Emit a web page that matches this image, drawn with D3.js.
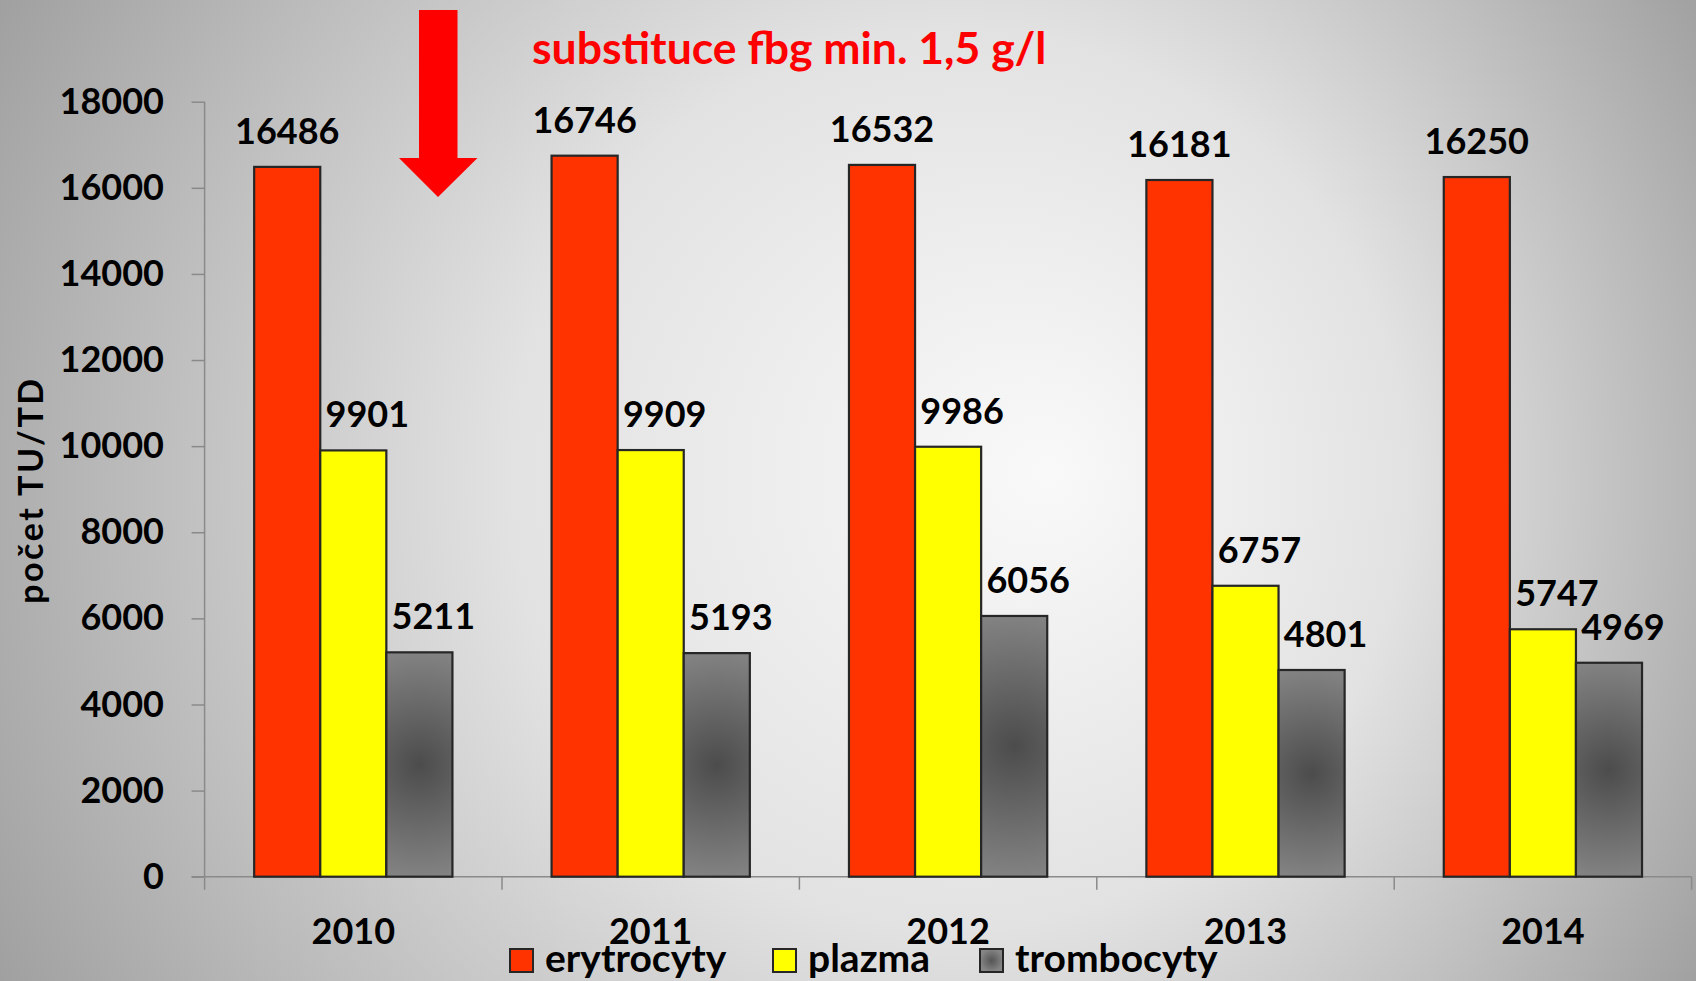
<!DOCTYPE html>
<html>
<head>
<meta charset="utf-8">
<script src="https://cdn.jsdelivr.net/npm/d3@7"></script>
<style>
  html, body { margin: 0; padding: 0; background: #ffffff; }
  svg { display: block; }
  text { font-family: "Lato", "Open Sans", "DejaVu Sans", sans-serif; font-weight: 700; }
</style>
</head>
<body>
<svg id="chart" width="1696" height="981"></svg>
<script>
// Blood component counts per year
const years = ["2010", "2011", "2012", "2013", "2014"];
const seriesNames = ["erytrocyty", "plazma", "trombocyty"];
const erytrocyty = [16486, 16746, 16532, 16181, 16250];
const plazma = [9901, 9909, 9986, 6757, 5747];
const trombocyty = [5211, 5193, 6056, 4801, 4969];
const yTicks = [0, 2000, 4000, 6000, 8000, 10000, 12000, 14000, 16000, 18000];
const yTitle = "počet TU/TD";
const noteText = "substituce fbg min. 1,5 g/l";

const seriesValues = [erytrocyty, plazma, trombocyty];
const seriesFill = ["#ff3300", "#ffff00", null];
const labelDx = [0, 14, 14];

const W = 1696, H = 981;
const margin = { left: 204.6, right: 1691.6, top: 101.7, bottom: 876.7 };

const svg = d3.select("#chart");
const defs = svg.append("defs");

// page background: light centre fading to grey edges
const bg = defs.append("radialGradient")
  .attr("id", "bgGrad")
  .attr("gradientUnits", "userSpaceOnUse")
  .attr("cx", 848).attr("cy", 490).attr("r", 1000)
  .attr("fx", 1050).attr("fy", 470);
bg.append("stop").attr("offset", "0").attr("stop-color", "#f9f9f9");
bg.append("stop").attr("offset", "0.45").attr("stop-color", "#e2e2e2");
bg.append("stop").attr("offset", "1").attr("stop-color", "#9e9e9e");
svg.append("rect").attr("width", W).attr("height", H).attr("fill", "url(#bgGrad)");

const x0 = d3.scaleBand().domain(years).range([margin.left, margin.right]).paddingInner(0).paddingOuter(0);
const x1 = d3.scaleBand().domain(seriesNames).range([0, x0.bandwidth()]).paddingInner(0).paddingOuter(0.75);
const y = d3.scaleLinear().domain([0, 18000]).range([margin.bottom, margin.top]);

const axisColor = "#8a8a8a";

// y axis
const yAxis = svg.append("g")
  .attr("transform", `translate(${margin.left},0)`)
  .call(d3.axisLeft(y).tickValues(yTicks).tickFormat(d3.format("d")).tickSize(13).tickSizeOuter(0).tickPadding(27.6));
yAxis.select(".domain").remove();
yAxis.selectAll(".tick line").attr("stroke", axisColor).attr("stroke-width", 1.5);
yAxis.selectAll(".tick text").attr("font-size", 36).attr("fill", "#000").attr("font-family", "Lato").attr("font-weight", 700);
svg.append("line")
  .attr("x1", margin.left).attr("x2", margin.left)
  .attr("y1", y(18000)).attr("y2", margin.bottom + 13)
  .attr("stroke", axisColor).attr("stroke-width", 1.5);

// x axis line and category boundary ticks
svg.append("line")
  .attr("x1", margin.left - 13).attr("x2", margin.right)
  .attr("y1", y(0)).attr("y2", y(0))
  .attr("stroke", axisColor).attr("stroke-width", 1.5);
svg.append("g").selectAll("line")
  .data(years.slice(1).concat(["end"]))
  .join("line")
  .attr("x1", d => d === "end" ? margin.right : x0(d))
  .attr("x2", d => d === "end" ? margin.right : x0(d))
  .attr("y1", y(0)).attr("y2", y(0) + 13)
  .attr("stroke", axisColor).attr("stroke-width", 1.5);

const xAxis = svg.append("g")
  .attr("transform", `translate(0,${y(0)})`)
  .call(d3.axisBottom(x0).tickSize(0).tickPadding(41.7));
xAxis.select(".domain").remove();
xAxis.selectAll(".tick text").attr("font-size", 36).attr("fill", "#000").attr("font-family", "Lato").attr("font-weight", 700);

// bars
const bars = [];
years.forEach((yr, i) => {
  seriesNames.forEach((s, j) => {
    bars.push({ year: yr, series: s, si: j, value: seriesValues[j][i], id: `tg${i}` });
  });
});

// shaded fill for the platelet bars
bars.filter(d => d.si === 2).forEach(d => {
  const bx = x0(d.year) + x1(d.series) + x1.bandwidth() / 2;
  const top = y(d.value), bot = y(0);
  const g = defs.append("radialGradient")
    .attr("id", d.id)
    .attr("gradientUnits", "userSpaceOnUse")
    .attr("cx", bx).attr("cy", (top + bot) / 2).attr("r", (bot - top) / 2);
  g.append("stop").attr("offset", "0").attr("stop-color", "#4c4c4c");
  g.append("stop").attr("offset", "1").attr("stop-color", "#828282");
});

svg.append("g").selectAll("rect")
  .data(bars)
  .join("rect")
  .attr("x", d => x0(d.year) + x1(d.series))
  .attr("y", d => y(d.value))
  .attr("width", x1.bandwidth())
  .attr("height", d => y(0) - y(d.value))
  .attr("fill", d => d.si === 2 ? `url(#${d.id})` : seriesFill[d.si])
  .attr("stroke", "#262626")
  .attr("stroke-width", 2.2);

// value labels
svg.append("g").selectAll("text")
  .data(bars)
  .join("text")
  .attr("x", d => x0(d.year) + x1(d.series) + x1.bandwidth() / 2 + labelDx[d.si])
  .attr("y", d => y(d.value) - 23)
  .attr("text-anchor", "middle")
  .attr("font-size", 36)
  .attr("fill", "#000")
  .text(d => d.value);

// y axis title
svg.append("text")
  .attr("transform", "translate(43,490) rotate(-90)")
  .attr("text-anchor", "middle")
  .attr("font-size", 34)
  .attr("letter-spacing", 2.5)
  .attr("fill", "#000")
  .text(yTitle);

// annotation arrow and note
svg.append("path")
  .attr("d", "M419,10 L457.5,10 L457.5,158 L477.5,158 L438,197 L399,158 L419,158 Z")
  .attr("fill", "#ff0000");
svg.append("text")
  .attr("x", 532).attr("y", 64)
  .attr("font-size", 44.5)
  .attr("fill", "#ff0000")
  .text(noteText);

// legend
const lg = defs.append("radialGradient").attr("id", "legGray").attr("cx", "0.5").attr("cy", "0.5").attr("r", "0.5");
lg.append("stop").attr("offset", "0").attr("stop-color", "#555555");
lg.append("stop").attr("offset", "1").attr("stop-color", "#858585");

const legendX = [510, 773, 980];
const legend = svg.append("g").selectAll("g")
  .data(seriesNames)
  .join("g")
  .attr("transform", (d, i) => `translate(${legendX[i]},949)`);
legend.append("rect")
  .attr("width", 23).attr("height", 23)
  .attr("fill", (d, i) => i === 2 ? "url(#legGray)" : seriesFill[i])
  .attr("stroke", "#262626").attr("stroke-width", 2);
legend.append("text")
  .attr("x", 35).attr("y", 22.5)
  .attr("font-size", 39)
  .attr("fill", "#000")
  .text(d => d);
</script>
</body>
</html>
